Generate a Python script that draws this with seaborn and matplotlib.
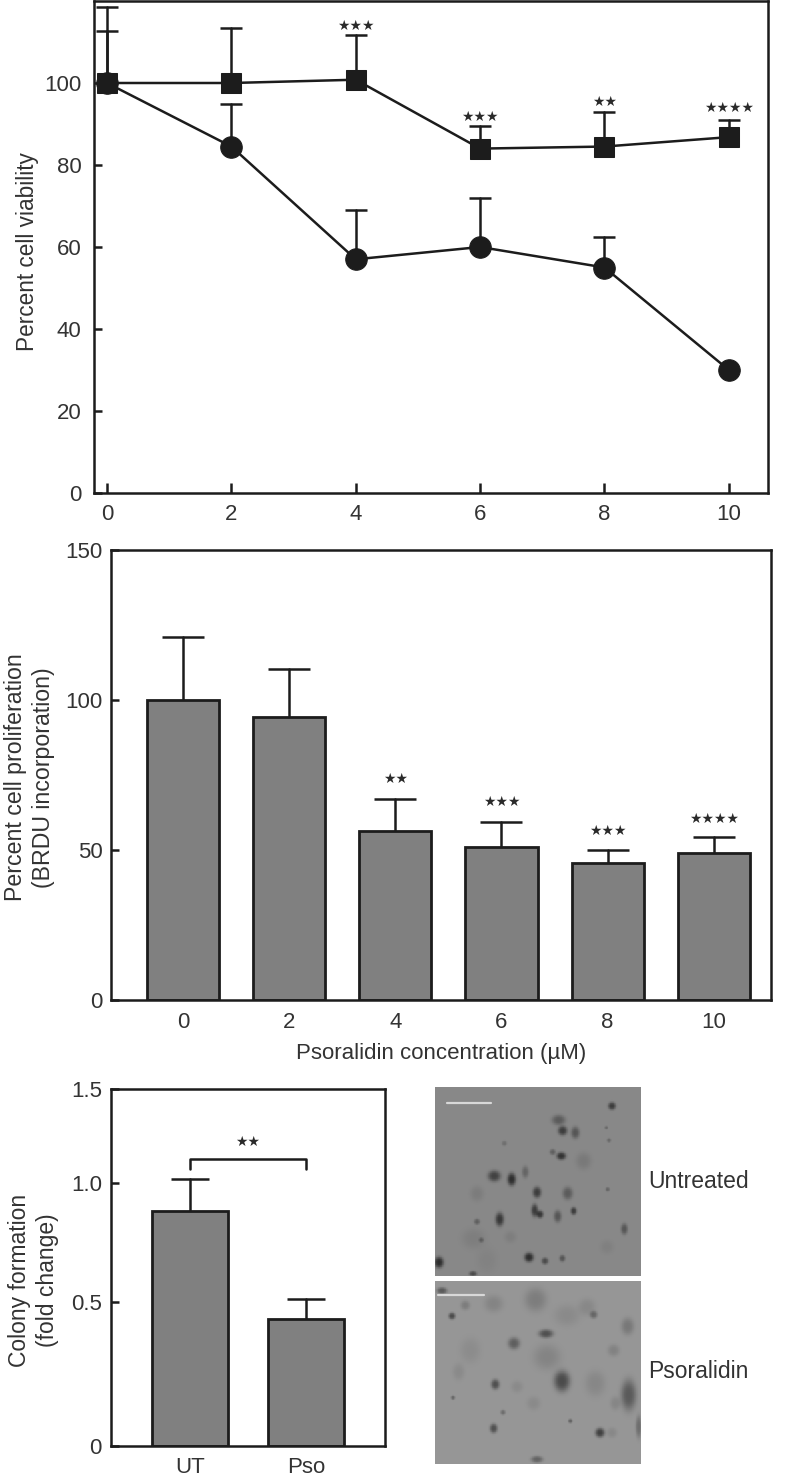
import numpy as np
import pandas as pd
import seaborn as sns
import matplotlib.pyplot as plt

sns.set_style('white')
plt.rcParams['font.family'] = ['Liberation Sans', 'DejaVu Sans']
plt.rcParams['text.color'] = '#333333'
plt.rcParams['axes.labelcolor'] = '#333333'
plt.rcParams['xtick.labelcolor'] = '#333333'
plt.rcParams['ytick.labelcolor'] = '#333333'

INK = '#1c1c1c'
BAR = '#808080'
W, H = 787, 1476
LW = 1.8

# viability panel
conc = [0, 2, 4, 6, 8, 10]
square_vals = [100, 100, 100.8, 84, 84.5, 86.8]
square_tops = [118.5, 113.4, 111.7, 89.5, 93, 91]
circle_vals = [100, 84.5, 57, 60, 55, 30]
circle_tops = [112.7, 94.9, 69, 72, 62.5, 30]
viab_stars = ['', '', '★★★', '★★★', '★★', '★★★★']
viab_star_y = [0, 0, 114, 91.7, 95.4, 93.9]

# proliferation panel
brdu_labels = ['0', '2', '4', '6', '8', '10']
brdu_vals = [100, 94.5, 56.5, 51, 45.8, 49]
brdu_tops = [121, 110.5, 67, 59.5, 50, 54.5]
brdu_stars = ['', '', '★★', '★★★', '★★★', '★★★★']
brdu_star_y = [0, 0, 73.7, 66, 56.3, 60.3]

# colony panel, the printed axis is not evenly spaced
colony_labels = ['UT', 'Pso']
colony_vals = [0.882, 0.441]
colony_tops = [1.02, 0.513]
colony_ticks = [0, 0.5, 1.0, 1.5]
colony_tick_px = [0, 144, 263, 357]

# micrograph spots: x, y, x radius, y radius, darkness (zoomed crop coordinates)
untreated_spots = [
    (575, 107, 9, 9, 75), (415, 149, 16, 12, 45), (427, 181, 11, 11, 75), (465, 187, 10, 14, 50),
    (423, 257, 11, 9, 85), (397, 245, 7, 7, 40), (252, 219, 6, 6, 25), (222, 317, 15, 13, 70),
    (274, 327, 10, 15, 90), (315, 305, 8, 14, 35), (350, 366, 10, 13, 75), (442, 369, 12, 15, 45),
    (343, 420, 8, 15, 75), (359, 432, 8, 9, 80), (412, 438, 9, 14, 50), (460, 422, 7, 9, 75),
    (238, 447, 10, 16, 80), (170, 454, 7, 7, 40), (183, 509, 6, 6, 35), (612, 476, 8, 13, 50),
    (562, 357, 5, 5, 35), (326, 561, 11, 11, 90), (374, 572, 8, 8, 60), (426, 564, 7, 8, 50),
    (56, 576, 11, 13, 90), (158, 610, 9, 6, 60), (558, 172, 4, 4, 30), (566, 210, 5, 5, 30),
    (170, 370, 16, 18, 12), (490, 272, 18, 20, 15), (160, 505, 28, 24, 10), (560, 530, 16, 16, 8),
    (270, 500, 14, 14, 10), (200, 570, 24, 30, 6),
]
psoralidin_spots = [
    (65, 661, 12, 8, 60), (95, 737, 8, 8, 75), (135, 705, 11, 11, 25), (220, 700, 22, 20, 18),
    (346, 688, 26, 28, 25), (520, 733, 9, 9, 45), (622, 768, 15, 20, 30), (377, 790, 17, 10, 70),
    (281, 819, 14, 14, 55), (380, 860, 32, 30, 18), (440, 735, 30, 25, 12), (425, 933, 19, 25, 75),
    (225, 943, 10, 12, 70), (98, 983, 5, 5, 45), (248, 1027, 6, 6, 40), (220, 1075, 9, 11, 70),
    (450, 1053, 5, 5, 50), (539, 1088, 11, 11, 85), (625, 975, 18, 36, 60), (655, 1070, 7, 26, 40),
    (350, 1168, 14, 8, 50), (525, 940, 24, 30, 15), (150, 840, 24, 30, 10), (115, 905, 14, 20, 12),
    (580, 840, 14, 14, 20), (340, 1000, 16, 16, 12), (575, 1088, 12, 12, 14), (290, 950, 14, 14, 12),
    (500, 710, 20, 20, 14), (585, 1000, 12, 16, 16),
]


def px_axes(left, top, right, bottom):
    return fig.add_axes([left / W, 1 - bottom / H, (right - left) / W, (bottom - top) / H])


def frame(ax):
    for side in ax.spines.values():
        side.set_visible(True)
        side.set_color(INK)
        side.set_linewidth(LW)


def upper_errors(ax, xs, vals, tops, cap):
    # only the upper half of each error bar is printed
    for x, v, t in zip(xs, vals, tops):
        if t > v:
            ax.plot([x, x], [v, t], color=INK, lw=LW, zorder=1)
            ax.plot(x, t, marker='_', ms=cap, mew=LW, color=INK, zorder=1)


def stars(ax, xs, labels, ys):
    for x, s, y in zip(xs, labels, ys):
        if s:
            ax.text(x, y, s, ha='center', va='center', fontsize=10, color='#2a2a2a',
                    family=['DejaVu Sans'])


def micrograph(spots, x0, x1, y0, y1, base):
    xx, yy = np.meshgrid(np.arange(x0, x1, 2), np.arange(y0, y1, 2))
    img = np.full(xx.shape, base, dtype=float)
    for x, y, rx, ry, dark in spots:
        img -= dark * np.exp(-(((xx - x) / (rx * 1.25)) ** 2 + ((yy - y) / (ry * 1.25)) ** 2) ** 1.5)
    return img


fig = plt.figure(figsize=(W / 100, H / 100), dpi=100)

# top panel
ax1 = px_axes(94, 1, 768, 493)
viab = pd.DataFrame({'conc': conc, 'square': square_vals, 'circle': circle_vals})
upper_errors(ax1, conc, square_vals, square_tops, 16)
upper_errors(ax1, conc, circle_vals, circle_tops, 16)
sns.lineplot(data=viab, x='conc', y='circle', ax=ax1, color=INK, lw=LW, marker='o', ms=15.5,
             mec=INK, zorder=3)
sns.lineplot(data=viab, x='conc', y='square', ax=ax1, color=INK, lw=LW, marker='s', ms=15,
             mec=INK, zorder=4)
stars(ax1, conc, viab_stars, viab_star_y)
ax1.set_xlim(-0.21, 10.63)
ax1.set_ylim(0, 120)
ax1.set_xticks(conc)
ax1.set_yticks([0, 20, 40, 60, 80, 100])
ax1.set_xlabel('')
ax1.set_ylabel('Percent cell viability', fontsize=16.3)
ax1.yaxis.set_label_coords((39 - 94) / 674, 0.49)
ax1.tick_params(axis='y', left=True, direction='in', length=6, width=LW, color=INK, labelsize=16, pad=9)
ax1.tick_params(axis='x', bottom=True, direction='in', length=7, width=LW, color=INK, labelsize=16, pad=8)
frame(ax1)

# middle panel
ax2 = px_axes(111, 550, 771, 1000)
brdu = pd.DataFrame({'conc': brdu_labels, 'val': brdu_vals})
sns.barplot(data=brdu, x='conc', y='val', ax=ax2, color=BAR, saturation=1, width=0.68,
            edgecolor=INK, linewidth=2, zorder=2)
upper_errors(ax2, range(6), brdu_vals, brdu_tops, 30)
stars(ax2, range(6), brdu_stars, brdu_star_y)
ax2.set_xlim(-0.68, 5.54)
ax2.set_ylim(0, 150)
ax2.set_yticks([0, 50, 100, 150])
ax2.set_xlabel('Psoralidin concentration (µM)', fontsize=16, labelpad=7)
ax2.set_ylabel('Percent cell proliferation\n(BRDU incorporation)', fontsize=16.7, linespacing=1.25)
ax2.yaxis.set_label_coords((55 - 111) / 660, 0.495)
ax2.tick_params(axis='y', left=True, direction='in', length=6, width=LW, color=INK, labelsize=16, pad=6)
ax2.tick_params(axis='x', length=0, labelsize=16, pad=9)
frame(ax2)

# bottom left panel
ax3 = px_axes(111, 1089, 385, 1446)
colony = pd.DataFrame({'group': colony_labels, 'val': colony_vals})
ax3.set_yscale('function', functions=(
    lambda v: np.interp(v, colony_ticks, colony_tick_px),
    lambda p: np.interp(p, colony_tick_px, colony_ticks)))
sns.barplot(data=colony, x='group', y='val', ax=ax3, color=BAR, saturation=1, width=0.65,
            edgecolor=INK, linewidth=2, zorder=2)
upper_errors(ax3, range(2), colony_vals, colony_tops, 28)
ax3.plot([0, 0, 1, 1], [1.074, 1.128, 1.128, 1.074], color=INK, lw=LW)
stars(ax3, [0.5], ['★★'], [1.218])
ax3.set_xlim(-0.68, 1.68)
ax3.set_ylim(0, 1.5)
ax3.set_yticks(colony_ticks)
ax3.set_yticklabels(['0', '0.5', '1.0', '1.5'])
ax3.minorticks_off()
ax3.set_xlabel('')
ax3.set_ylabel('Colony formation\n(fold change)', fontsize=16.5, linespacing=1.3)
ax3.yaxis.set_label_coords((59 - 111) / 274, 0.465)
ax3.tick_params(axis='y', left=True, direction='in', length=6, width=LW, color=INK, labelsize=16, pad=6.5)
ax3.tick_params(axis='x', length=0, labelsize=16, pad=8)
frame(ax3)

# micrographs
for spots, ext, base, bar_px in [
    (untreated_spots, (45, 663, 52, 618), 136, (80, 212, 99)),
    (psoralidin_spots, (45, 663, 632, 1183), 150, (55, 192, 676)),
]:
    x0, x1, y0, y1 = ext
    ax = px_axes(420 + x0 / 3, 1070 + y0 / 3, 420 + x1 / 3, 1070 + y1 / 3)
    sns.heatmap(micrograph(spots, x0, x1, y0, y1, base), ax=ax, cmap='gray', vmin=0, vmax=255,
                cbar=False, xticklabels=False, yticklabels=False, rasterized=True)
    ax.plot([(bar_px[0] - x0) / 2, (bar_px[1] - x0) / 2], [(bar_px[2] - y0) / 2] * 2,
            color='#d8d8d8', lw=1.6)

fig.text(648 / W, 1 - 1181 / H, 'Untreated', fontsize=16.5, va='center')
fig.text(648 / W, 1 - 1372 / H, 'Psoralidin', fontsize=16.5, va='center')

fig.savefig('out.png', dpi=100)
